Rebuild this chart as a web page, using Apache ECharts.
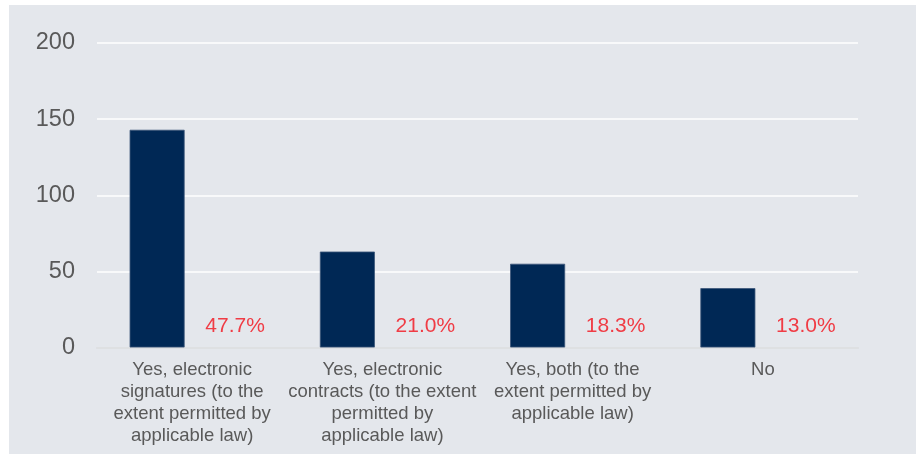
<!DOCTYPE html>
<html>
<head>
<meta charset="utf-8">
<script src="https://cdn.jsdelivr.net/npm/echarts@6/dist/echarts.min.js"></script>
<style>
  html, body { margin: 0; padding: 0; background: #ffffff; }
  #chart { width: 916px; height: 454px; }
</style>
</head>
<body>
<div id="chart"></div>
<script>
// Survey answers (category labels wrap as shown under each bar)
const categories = [
  'Yes, electronic\nsignatures (to the\nextent permitted by\napplicable law)',
  'Yes, electronic\ncontracts (to the extent\npermitted by\napplicable law)',
  'Yes, both (to the\nextent permitted by\napplicable law)',
  'No'
];
// Number of respondents per answer
const counts = [143, 63, 55, 39];
// Share of respondents per answer, in percent
const shares = [47.7, 21.0, 18.3, 13.0];
// Value-axis ticks
const yTicks = { min: 0, max: 200, interval: 50 };

const chart = echarts.init(document.getElementById('chart'), null, { renderer: 'canvas' });

const FONT = '"Liberation Sans", Arial, sans-serif';

chart.setOption({
  backgroundColor: '#ffffff',
  animation: false,
  graphic: [{
    type: 'rect',
    z: -100,
    silent: true,
    shape: { x: 9, y: 5, width: 907, height: 449 },
    style: { fill: '#e4e7ec' }
  }],
  grid: { left: 97, right: 58, top: 43, bottom: 106.5, containLabel: false },
  xAxis: {
    type: 'category',
    data: categories,
    axisLine: { show: true, lineStyle: { color: '#d5d7da', width: 1.5 } },
    axisTick: { show: false },
    axisLabel: {
      interval: 0,
      margin: 12,
      color: '#595959',
      fontFamily: FONT,
      fontSize: 18.5,
      lineHeight: 21.7,
      align: 'center'
    }
  },
  yAxis: [{
    type: 'value',
    min: yTicks.min,
    max: yTicks.max,
    interval: yTicks.interval,
    axisLine: { show: false },
    axisTick: { show: false },
    axisLabel: {
      margin: 22,
      color: '#595959',
      fontFamily: FONT,
      fontSize: 23.5
    },
    splitLine: { lineStyle: { color: '#ffffff', width: 1.5 } }
  }, {
    type: 'value',
    show: false,
    min: 0,
    max: 100,
    splitLine: { show: false }
  }],
  series: [{
    name: 'Respondents',
    type: 'bar',
    data: counts,
    barWidth: 55,
    barGap: '27.27%',
    itemStyle: { color: '#002855', borderColor: '#3b5679', borderWidth: 0.8 }
  }, {
    name: 'Share',
    type: 'bar',
    yAxisIndex: 1,
    data: shares,
    barWidth: 55,
    itemStyle: { color: 'rgba(0,0,0,0)' },
    label: {
      show: true,
      position: 'insideBottom',
      distance: 11,
      offset: [8, 0],
      color: '#f03c45',
      fontFamily: FONT,
      fontSize: 21,
      formatter: p => p.value.toFixed(1) + '%'
    }
  }]
});
</script>
</body>
</html>
